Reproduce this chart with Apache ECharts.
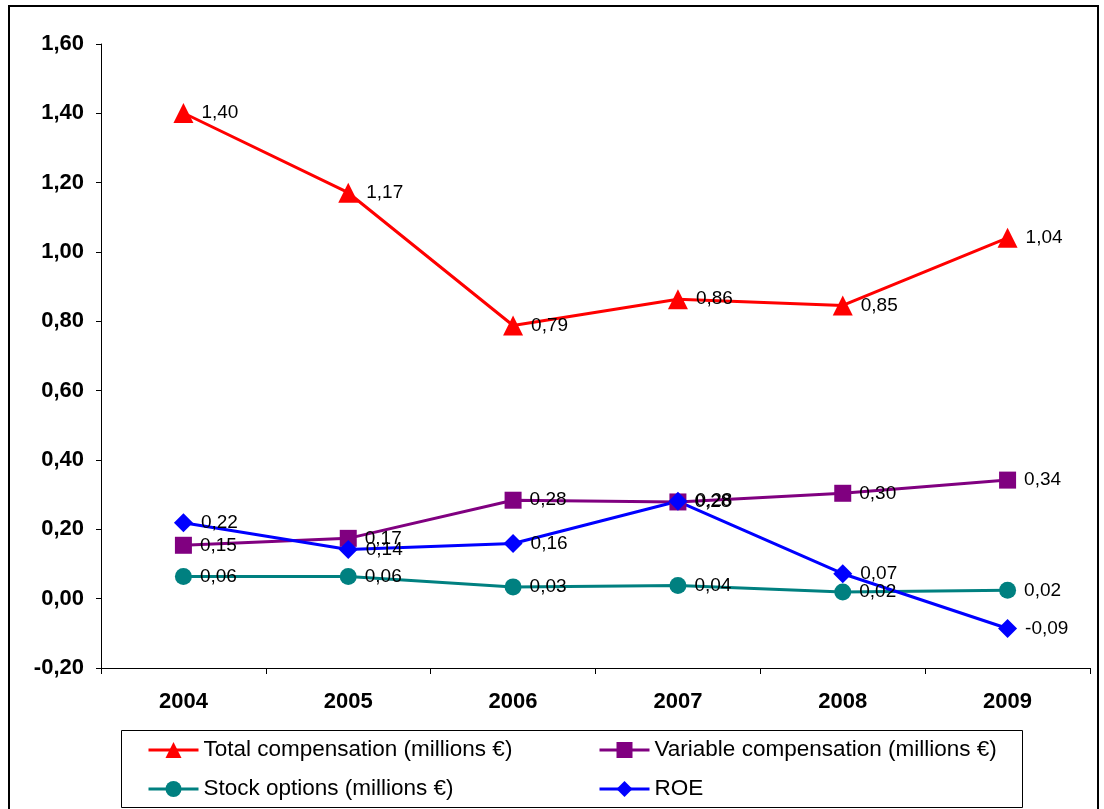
<!DOCTYPE html>
<html>
<head>
<meta charset="utf-8">
<script src="https://cdn.jsdelivr.net/npm/echarts@6/dist/echarts.min.js"></script>
<style>
html,body{margin:0;padding:0;background:#fff;}
#chart{width:1104px;height:809px;}
</style>
</head>
<body>
<div id="chart"></div>
<script>
const categories = ['2004', '2005', '2006', '2007', '2008', '2009'];
const totalComp = [1.401, 1.171, 0.788, 0.864, 0.846, 1.041];
const variableComp = [0.154, 0.174, 0.284, 0.279, 0.304, 0.342];
const stockOptions = [0.064, 0.064, 0.034, 0.038, 0.019, 0.024];
const roe = [0.219, 0.142, 0.159, 0.281, 0.072, -0.086];
const seriesNames = ['Total compensation (millions €)', 'Variable compensation (millions €)', 'Stock options (millions €)', 'ROE'];

const fmt = v => v.toFixed(2).replace('.', ',');
const FONT = '"Liberation Sans", Arial, sans-serif';

function mkSeries(name, data, color, symbol, size) {
  return {
    name: name,
    type: 'line',
    data: data,
    symbol: symbol,
    symbolSize: size,
    color: color,
    lineStyle: {color: color, width: 3},
    itemStyle: {color: color},
    label: {
      show: true,
      position: 'right',
      distance: 8,
      color: '#000',
      fontFamily: FONT,
      fontSize: 19,
      formatter: p => fmt(p.value)
    },
    emphasis: {disabled: true},
    animation: false
  };
}

function mkLegend(name, left, top) {
  return {
    left: left,
    top: top,
    padding: 0,
    orient: 'horizontal',
    itemWidth: 50,
    itemHeight: 20,
    data: [name],
    lineStyle: {width: 3},
    textStyle: {color: '#000', fontFamily: FONT, fontSize: 22.5, lineHeight: 24}
  };
}

const chart = echarts.init(document.getElementById('chart'), null, {renderer: 'canvas'});
chart.setOption({
  backgroundColor: '#fff',
  animation: false,
  graphic: [{
    type: 'rect',
    shape: {x: 9, y: 6, width: 1089, height: 820},
    style: {fill: 'none', stroke: '#000', lineWidth: 2},
    silent: true,
    z: -1
  }, {
    type: 'rect',
    shape: {x: 121.5, y: 730.5, width: 901, height: 77},
    style: {fill: '#fff', stroke: '#000', lineWidth: 1},
    silent: true,
    z: -1
  }],
  grid: {left: 101, right: 14, top: 44, bottom: 141},
  xAxis: {
    type: 'category',
    data: categories,
    boundaryGap: true,
    axisLine: {onZero: false, lineStyle: {color: '#000', width: 1}},
    axisTick: {show: true, length: 6, lineStyle: {color: '#000'}},
    axisLabel: {color: '#000', fontFamily: FONT, fontSize: 22, fontWeight: 'bold', margin: 23}
  },
  yAxis: {
    type: 'value',
    min: -0.2,
    max: 1.6,
    interval: 0.2,
    axisLine: {show: true, lineStyle: {color: '#000', width: 1}},
    axisTick: {show: true, length: 5, lineStyle: {color: '#000'}},
    splitLine: {show: false},
    axisLabel: {color: '#000', fontFamily: FONT, fontSize: 22, fontWeight: 'bold', margin: 17, formatter: v => fmt(v)}
  },
  legend: [
    mkLegend(seriesNames[0], 147, 738),
    mkLegend(seriesNames[1], 598, 738),
    mkLegend(seriesNames[2], 147, 777),
    mkLegend(seriesNames[3], 598, 777)
  ],
  series: [
    mkSeries(seriesNames[0], totalComp, '#FF0000', 'triangle', 20),
    mkSeries(seriesNames[1], variableComp, '#800080', 'rect', 17),
    mkSeries(seriesNames[2], stockOptions, '#008080', 'circle', 17),
    mkSeries(seriesNames[3], roe, '#0000FF', 'diamond', 19)
  ]
});
</script>
</body>
</html>
